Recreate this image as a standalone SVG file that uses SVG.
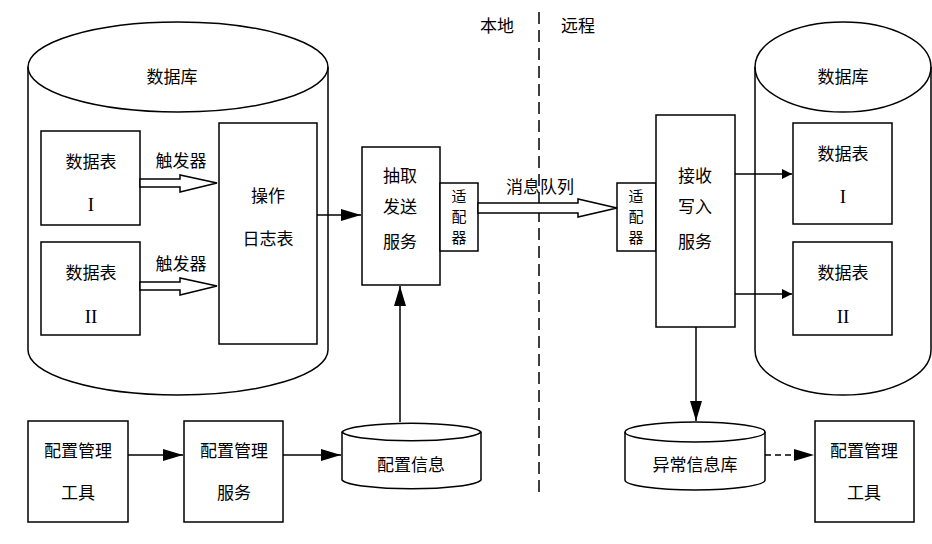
<svg xmlns="http://www.w3.org/2000/svg" width="932" height="544" viewBox="0 0 932 544">
<style>
.s{fill:#fff;stroke:#000;stroke-width:1.5}
.n{fill:none;stroke:#000;stroke-width:1.5}
text{font-family:"Noto Sans CJK SC","Liberation Sans",sans-serif;font-size:17px;text-anchor:middle;fill:#000}
.r{font-family:"Liberation Serif",serif;font-size:19px}
.ad{font-size:15px}
</style>
<defs>
<marker id="a" viewBox="0 0 10 10" refX="10" refY="5" markerWidth="10" markerHeight="10" markerUnits="userSpaceOnUse" orient="auto"><path d="M0,0 L10,5 L0,10 z" fill="#000"/></marker>
<marker id="b" viewBox="0 0 20 12" refX="20" refY="6" markerWidth="20" markerHeight="12" markerUnits="userSpaceOnUse" orient="auto"><path d="M0,0 L20,6 L0,12 z" fill="#000"/></marker>
</defs>
<rect width="932" height="544" fill="#fff"/>
<g id="db-local">
<path class="s" d="M28,67 A150,45 0 0 1 328,67 L328,350 A150,45 0 0 1 28,350 Z"/>
<path class="n" d="M28,67 A150,45 0 0 0 328,67"/>
<text x="172" y="83">数据库</text>
</g>
<g id="t1"><rect class="s" x="41" y="131" width="99" height="94"/><text x="91" y="168">数据表</text><text class="r" x="91" y="211">I</text></g>
<g id="t2"><rect class="s" x="41" y="242" width="99" height="93"/><text x="91" y="279">数据表</text><text class="r" x="91" y="323">II</text></g>
<g id="oplog"><rect class="s" x="219" y="123" width="98" height="221"/><text x="268" y="202">操作</text><text x="268" y="245">日志表</text></g>
<g id="extract"><rect class="s" x="362" y="147" width="78" height="138"/><text x="400" y="182">抽取</text><text x="400" y="213">发送</text><text x="400" y="248">服务</text></g>
<g id="ad1"><rect class="s" x="440" y="183" width="38" height="68"/><text class="ad" x="459" y="202">适</text><text class="ad" x="459" y="222">配</text><text class="ad" x="459" y="243">器</text></g>
<g id="ad2"><rect class="s" x="617" y="183" width="39" height="68"/><text class="ad" x="636" y="202">适</text><text class="ad" x="636" y="222">配</text><text class="ad" x="636" y="243">器</text></g>
<g id="recv"><rect class="s" x="656" y="115" width="79" height="212"/><text x="695" y="182">接收</text><text x="695" y="213">写入</text><text x="695" y="248">服务</text></g>
<g id="db-remote">
<path class="s" d="M755,67 A88,45 0 0 1 931,67 L931,350 A88,45 0 0 1 755,350 Z"/>
<path class="n" d="M755,67 A88,45 0 0 0 931,67"/>
<text x="843" y="83">数据库</text>
</g>
<g id="rt1"><rect class="s" x="793" y="123" width="99" height="101"/><text x="843" y="160">数据表</text><text class="r" x="843" y="203">I</text></g>
<g id="rt2"><rect class="s" x="793" y="242" width="99" height="93"/><text x="843" y="279">数据表</text><text class="r" x="843" y="323">II</text></g>
<g id="cfgtool1"><rect class="s" x="28" y="421" width="100" height="101"/><text x="78" y="457">配置管理</text><text x="78" y="499">工具</text></g>
<g id="cfgsvc"><rect class="s" x="184" y="421" width="99" height="101"/><text x="234" y="457">配置管理</text><text x="234" y="499">服务</text></g>
<g id="cfginfo"><path class="s" d="M342,432 A70,10 0 0 1 481,432 L481,480 A70,10 0 0 1 342,480 Z"/><path class="n" d="M342,432 A70,10 0 0 0 481,432"/><text x="411" y="471">配置信息</text></g>
<g id="errdb"><path class="s" d="M625,432 A70,10 0 0 1 765,432 L765,480 A70,10 0 0 1 625,480 Z"/><path class="n" d="M625,432 A70,10 0 0 0 765,432"/><text x="695" y="471">异常信息库</text></g>
<g id="cfgtool2"><rect class="s" x="815" y="421" width="99" height="101"/><text x="864" y="457">配置管理</text><text x="864" y="499">工具</text></g>
<g id="connectors">
<line class="n" x1="539" y1="12" x2="539" y2="492" stroke-dasharray="12,6"/>
<path class="s" d="M140,179 L180,179 L180,175 L217,183 L180,192 L180,187 L140,187 Z"/>
<path class="s" d="M140,282 L180,282 L180,278 L217,286 L180,295 L180,290 L140,290 Z"/>
<path class="s" d="M478,203 L578,203 L578,199 L617,208 L578,217 L578,213 L478,213 Z"/>
<line class="n" x1="317" y1="215" x2="361" y2="215" marker-end="url(#b)"/>
<line class="n" x1="735" y1="174" x2="792" y2="174" marker-end="url(#a)"/>
<line class="n" x1="735" y1="294" x2="792" y2="294" marker-end="url(#a)"/>
<line class="n" x1="400" y1="422" x2="400" y2="286" marker-end="url(#b)"/>
<line class="n" x1="696" y1="327" x2="696" y2="421" marker-end="url(#b)"/>
<line class="n" x1="128" y1="455" x2="183" y2="455" marker-end="url(#b)"/>
<line class="n" x1="283" y1="455" x2="341" y2="455" marker-end="url(#b)"/>
<line class="n" x1="765" y1="455" x2="814" y2="455" stroke-dasharray="6,4" marker-end="url(#b)"/>
<text x="181" y="167">触发器</text>
<text x="181" y="270">触发器</text>
<text x="540" y="193">消息队列</text>
<text x="497" y="32">本地</text>
<text x="578" y="32">远程</text>
</g>
</svg>
